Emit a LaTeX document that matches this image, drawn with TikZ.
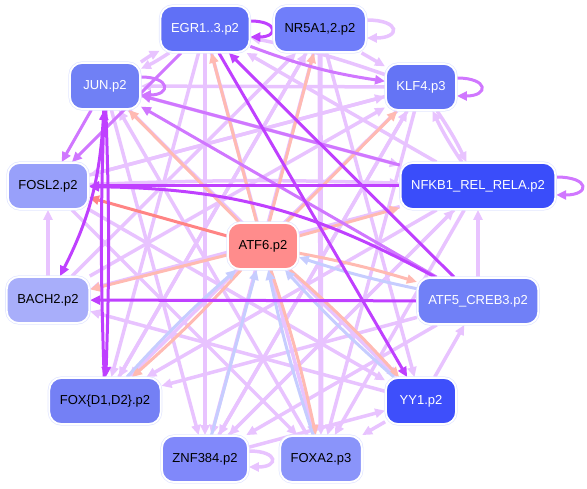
\documentclass[tikz,border=0pt]{standalone}
\usepackage{fontspec}
\setmainfont{Liberation Sans}
\usetikzlibrary{arrows.meta, backgrounds}
% edge colours
\definecolor{lilac}{HTML}{E8C3FF}
\definecolor{orchid}{HTML}{D077FF}
\definecolor{grape}{HTML}{BF40FF}
\definecolor{salmon}{HTML}{FFBAB2}
\definecolor{coral}{HTML}{FF8484}
\definecolor{periwinkle}{HTML}{C6CDFF}
\definecolor{rim}{HTML}{E2E6FF}
% node colours
\definecolor{nEgr}{HTML}{6070F6}
\definecolor{nNr}{HTML}{707EFA}
\definecolor{nKlf}{HTML}{6474F5}
\definecolor{nJun}{HTML}{7080F5}
\definecolor{nFosl}{HTML}{98A0FA}
\definecolor{nNfkb}{HTML}{3A4DFA}
\definecolor{nAtfsix}{HTML}{FF8C8C}
\definecolor{nBach}{HTML}{A8AEFA}
\definecolor{nAtffive}{HTML}{7080F7}
\definecolor{nFox}{HTML}{7480F5}
\definecolor{nYy}{HTML}{3E4FFB}
\definecolor{nZnf}{HTML}{8088FA}
\definecolor{nFoxa}{HTML}{8A94FA}

\begin{document}
\begin{tikzpicture}[x=1pt, y=1pt,
  gene/.style={rectangle, rounded corners=12pt, minimum width=70pt, minimum height=46pt,
    inner xsep=10.5pt, font=\fontsize{13}{15}\selectfont, draw=white, line width=1.8pt,
    preaction={draw=rim, line width=3.2pt}},
  tip/.style={-{Triangle[length=10pt, width=9pt]}},
  lite/.style={tip, draw=lilac, line width=3.5pt},
  wide/.style={tip, draw=lilac, line width=5pt},
  mid/.style={tip, draw=orchid, line width=3pt},
  strong/.style={tip, draw=grape, line width=3pt},
  pale/.style={tip, draw=salmon, line width=3pt},
  hot/.style={tip, draw=coral, line width=3pt},
  cool/.style={tip, draw=periwinkle, line width=3pt}]
\useasboundingbox (0,0) rectangle (587,489);

% genes
\node[gene, fill=nEgr, text=white] (egr) at (205,460) {EGR1..3.p2};
\node[gene, fill=nNr] (nrfive) at (320,460) {NR5A1,2.p2};
\node[gene, fill=nKlf, text=white] (klf) at (421,402) {KLF4.p3};
\node[gene, fill=nJun, text=white] (jun) at (105,403) {JUN.p2};
\node[gene, fill=nFosl] (fosl) at (48,303) {FOSL2.p2};
\node[gene, fill=nNfkb, text=white] (nfkb) at (478,303) {NFKB1\_REL\_RELA.p2};
\node[gene, fill=nAtfsix] (atfsix) at (263,243) {ATF6.p2};
\node[gene, fill=nBach] (bach) at (48,189) {BACH2.p2};
\node[gene, fill=nAtffive, text=white] (atffive) at (478,188) {ATF5\_CREB3.p2};
\node[gene, fill=nFox] (fox) at (105,88) {FOX\{D1,D2\}.p2};
\node[gene, fill=nYy, text=white] (yy) at (421,88) {YY1.p2};
\node[gene, fill=nZnf] (znf) at (205,30) {ZNF384.p2};
\node[gene, fill=nFoxa] (foxa) at (321,30) {FOXA2.p3};

\begin{scope}[on background layer]
% faint links
\foreach \s/\t in {klf/jun, klf/fosl, nfkb/bach, bach/fosl, atffive/nfkb, yy/atffive,
    yy/foxa, yy/bach, znf/yy, egr/znf, egr/fox, nrfive/fox, klf/fox, atffive/fox,
    jun/znf, klf/znf, nfkb/znf, klf/foxa, fosl/foxa, nrfive/klf, nfkb/egr, jun/nfkb,
    bach/klf, fosl/klf, znf/klf, nrfive/yy, jun/yy, fosl/yy, nfkb/fox, egr/foxa,
    nfkb/foxa, nrfive/znf, atffive/znf, bach/nrfive, foxa/jun, znf/nfkb, fox/nrfive}
  \draw[lite] (\s) -- (\t);
\draw[lite] (egr) to[bend left=4] (jun);
\draw[lite] (jun) to[bend left=4] (egr);
\draw[lite] (klf) to[bend left=4] (nfkb);
\draw[lite] (nfkb) to[bend left=4] (klf);
\draw[lite] (fosl) to[bend left=2] (nfkb);
\draw[lite] (klf) to[bend right=4] (egr);
\draw[wide] (nrfive) -- (foxa);
\draw[lite] ([yshift=9pt]nrfive.east) to[out=0, in=0, distance=34pt] ([yshift=-9pt]nrfive.east);
\draw[lite] ([yshift=8pt]znf.east) to[out=0, in=0, distance=30pt] ([yshift=-8pt]znf.east);

% ATF6 in and out
\foreach \t in {bach, jun, egr, nrfive, klf, nfkb}
  \draw[pale] (atfsix) -- (\t);
\foreach \t in {atffive, yy, foxa, fox} {
  \draw[pale] (atfsix) to[bend left=3] (\t);
  \draw[cool] (\t) to[bend left=3] (atfsix);
}
\draw[cool] (znf) -- (atfsix);
\draw[hot] (atfsix) -- (fosl);

% medium links
\foreach \s/\t in {jun/fosl, nfkb/jun, egr/fosl, atffive/jun}
  \draw[mid] (\s) -- (\t);
\draw[mid] (egr) to[bend right=6] (klf);
\draw[mid] ([yshift=9pt]klf.east) to[out=0, in=0, distance=32pt] ([yshift=-9pt]klf.east);
\draw[mid] ([yshift=9pt]nfkb.east) to[out=0, in=0, distance=34pt] ([yshift=-9pt]nfkb.east);
\draw[mid] ([yshift=9pt]jun.east) to[out=0, in=0, distance=30pt] ([yshift=-9pt]jun.east);

% strong links
\foreach \s/\t in {atffive/bach, nfkb/fosl, atffive/egr, egr/yy}
  \draw[strong] (\s) -- (\t);
\draw[strong] (jun) to[bend left=2] (fox);
\draw[strong] (fox) to[bend left=2] (jun);
\draw[strong] (jun) to[bend left=12] (bach);
\draw[strong] (atffive) to[bend right=14] (fosl);
\draw[strong] ([yshift=8pt]egr.east) to[out=0, in=0, distance=28pt] ([yshift=-8pt]egr.east);
\end{scope}
\end{tikzpicture}
\end{document}
